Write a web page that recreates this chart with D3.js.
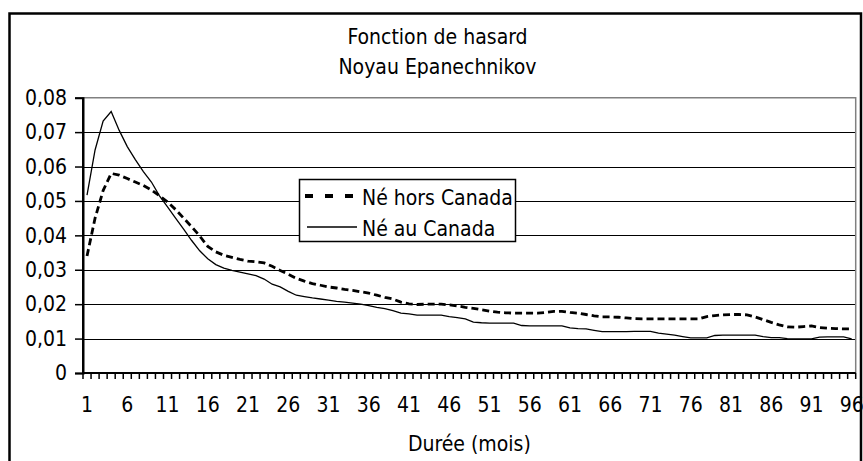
<!DOCTYPE html>
<html><head><meta charset="utf-8">
<script src="https://cdn.jsdelivr.net/npm/d3@7"></script>
<style>
html,body{margin:0;padding:0;background:#fff;}
svg text{font-family:'DejaVu Sans Condensed','DejaVu Sans',sans-serif;font-stretch:condensed;fill:#000;}
</style></head>
<body><svg id="c" width="863" height="461"></svg>
<script>
const titleLines = ["Fonction de hasard", "Noyau Epanechnikov"];
const xTitle = "Durée (mois)";
const seriesNames = ["Né hors Canada", "Né au Canada"];
const months = d3.range(1, 97);
const yTicks = [0, 0.01, 0.02, 0.03, 0.04, 0.05, 0.06, 0.07, 0.08];
const xTickLabels = d3.range(1, 97, 5);
const horsCanada = [
 0.0340,0.0450,0.0530,0.0580,0.0575,0.0565,0.0555,0.0545,0.0532,0.0515,
 0.0497,0.0475,0.0450,0.0425,0.0398,0.0368,0.0352,0.0342,0.0336,0.0330,
 0.0325,0.0323,0.0320,0.0310,0.0298,0.0287,0.0275,0.0267,0.0260,0.0255,
 0.0250,0.0247,0.0243,0.0240,0.0236,0.0232,0.0226,0.0220,0.0215,0.0206,
 0.0201,0.0199,0.0200,0.0200,0.0200,0.0198,0.0195,0.0191,0.0188,0.0184,
 0.0180,0.0177,0.0175,0.0174,0.0174,0.0174,0.0174,0.0176,0.0179,0.0179,
 0.0176,0.0174,0.0170,0.0166,0.0163,0.0163,0.0162,0.0160,0.0158,0.0157,
 0.0157,0.0157,0.0157,0.0157,0.0157,0.0157,0.0157,0.0164,0.0167,0.0169,
 0.0170,0.0170,0.0169,0.0163,0.0155,0.0147,0.0140,0.0134,0.0133,0.0135,
 0.0137,0.0132,0.0130,0.0129,0.0128,0.0128];
const auCanada = [
 0.0517,0.0648,0.0732,0.0760,0.0705,0.0658,0.0620,0.0585,0.0555,0.0515,
 0.0483,0.0450,0.0418,0.0385,0.0355,0.0332,0.0315,0.0305,0.0298,0.0293,
 0.0288,0.0283,0.0273,0.0258,0.0250,0.0237,0.0226,0.0222,0.0218,0.0215,
 0.0212,0.0208,0.0206,0.0203,0.0200,0.0196,0.0191,0.0187,0.0181,0.0174,
 0.0172,0.0168,0.0168,0.0168,0.0168,0.0164,0.0161,0.0157,0.0148,0.0146,
 0.0145,0.0145,0.0145,0.0145,0.0138,0.0137,0.0137,0.0137,0.0137,0.0137,
 0.0131,0.0129,0.0128,0.0124,0.0120,0.0120,0.0120,0.0120,0.0121,0.0121,
 0.0121,0.0116,0.0113,0.0110,0.0106,0.0102,0.0102,0.0102,0.0109,0.0110,
 0.0110,0.0110,0.0110,0.0110,0.0106,0.0103,0.0103,0.0100,0.0099,0.0099,
 0.0099,0.0104,0.0105,0.0105,0.0105,0.0099];

const FS = 21;
const svg = d3.select("#c");
const L = 83, R = 855.7, T = 97.7, B = 373;
const x = d3.scaleBand().domain(months).range([L, R]).padding(0);
const y = d3.scaleLinear().domain([0, 0.08]).range([B, T]);
const fmt = d => d === 0 ? "0" : d3.format(".2f")(d).replace(".", ",");

// outer frame
svg.append("path").attr("d", `M9.5,470V13.5H861V470`).attr("fill","none").attr("stroke","#000").attr("stroke-width",2.5);

// title
svg.append("text").attr("x",437.5).attr("y",44).attr("text-anchor","middle").attr("font-size",FS).text(titleLines[0]);
svg.append("text").attr("x",437.5).attr("y",74).attr("text-anchor","middle").attr("font-size",FS).text(titleLines[1]);

// gridlines
svg.append("g").selectAll("line").data(yTicks.filter(d=>d>0 && d<0.08)).join("line")
  .attr("x1",L).attr("x2",R).attr("y1",d=>Math.round(y(d))+0.5).attr("y2",d=>Math.round(y(d))+0.5)
  .attr("stroke","#000").attr("stroke-width",1.2);
// plot area border (gray)
svg.append("path").attr("d",`M${L},${T}H${R}V${B}`).attr("fill","none").attr("stroke","#808080").attr("stroke-width",1.5);

// y axis
const ya = svg.append("g").attr("transform",`translate(${L},0)`)
  .call(d3.axisLeft(y).tickValues(yTicks).tickFormat(fmt).tickSize(8).tickPadding(8));
ya.select(".domain").attr("stroke-width",2);
ya.selectAll(".tick line").attr("stroke-width",1.5);
ya.selectAll("text").attr("font-size",FS).attr("font-family",null);

// x axis: tick marks at category boundaries
const bounds = months.map(m => x(m)).concat([R]);
svg.append("g").selectAll("line").data(bounds).join("line")
  .attr("x1",d=>d).attr("x2",d=>d).attr("y1",B).attr("y2",B+6)
  .attr("stroke","#000").attr("stroke-width",1.5);
const xa = svg.append("g").attr("transform",`translate(0,${B})`)
  .call(d3.axisBottom(x).tickValues(xTickLabels).tickSize(0).tickPadding(24));
xa.select(".domain").attr("stroke-width",2).attr("d",`M${L},0H${R}`);
xa.selectAll("text").attr("font-size",FS).attr("font-family",null);
svg.append("line").attr("x1",L).attr("x2",L).attr("y1",T).attr("y2",B+1).attr("stroke","#000").attr("stroke-width",2);

svg.append("text").attr("x",(L+R)/2).attr("y",451).attr("text-anchor","middle").attr("font-size",FS).text(xTitle);

// lines
const line = d3.line().x((d,i)=>x(months[i])+x.bandwidth()/2).y(d=>y(d));
svg.append("path").datum(horsCanada).attr("d",line).attr("fill","none").attr("stroke","#000")
  .attr("stroke-width",2.8).attr("stroke-dasharray","7,4");
svg.append("path").datum(auCanada).attr("d",line).attr("fill","none").attr("stroke","#000")
  .attr("stroke-width",1.3);

// legend
const lg = svg.append("g");
lg.append("rect").attr("x",299.5).attr("y",179.5).attr("width",216).attr("height",62)
  .attr("fill","#fff").attr("stroke","#000").attr("stroke-width",1.5);
lg.append("line").attr("x1",305).attr("x2",355).attr("y1",196).attr("y2",196)
  .attr("stroke","#000").attr("stroke-width",4).attr("stroke-dasharray","8,12");
lg.append("line").attr("x1",307).attr("x2",357).attr("y1",227).attr("y2",227)
  .attr("stroke","#000").attr("stroke-width",1.3);
lg.append("text").attr("x",362).attr("y",205).attr("font-size",FS).text(seriesNames[0]);
lg.append("text").attr("x",362).attr("y",236).attr("font-size",FS).text(seriesNames[1]);
</script></body></html>
